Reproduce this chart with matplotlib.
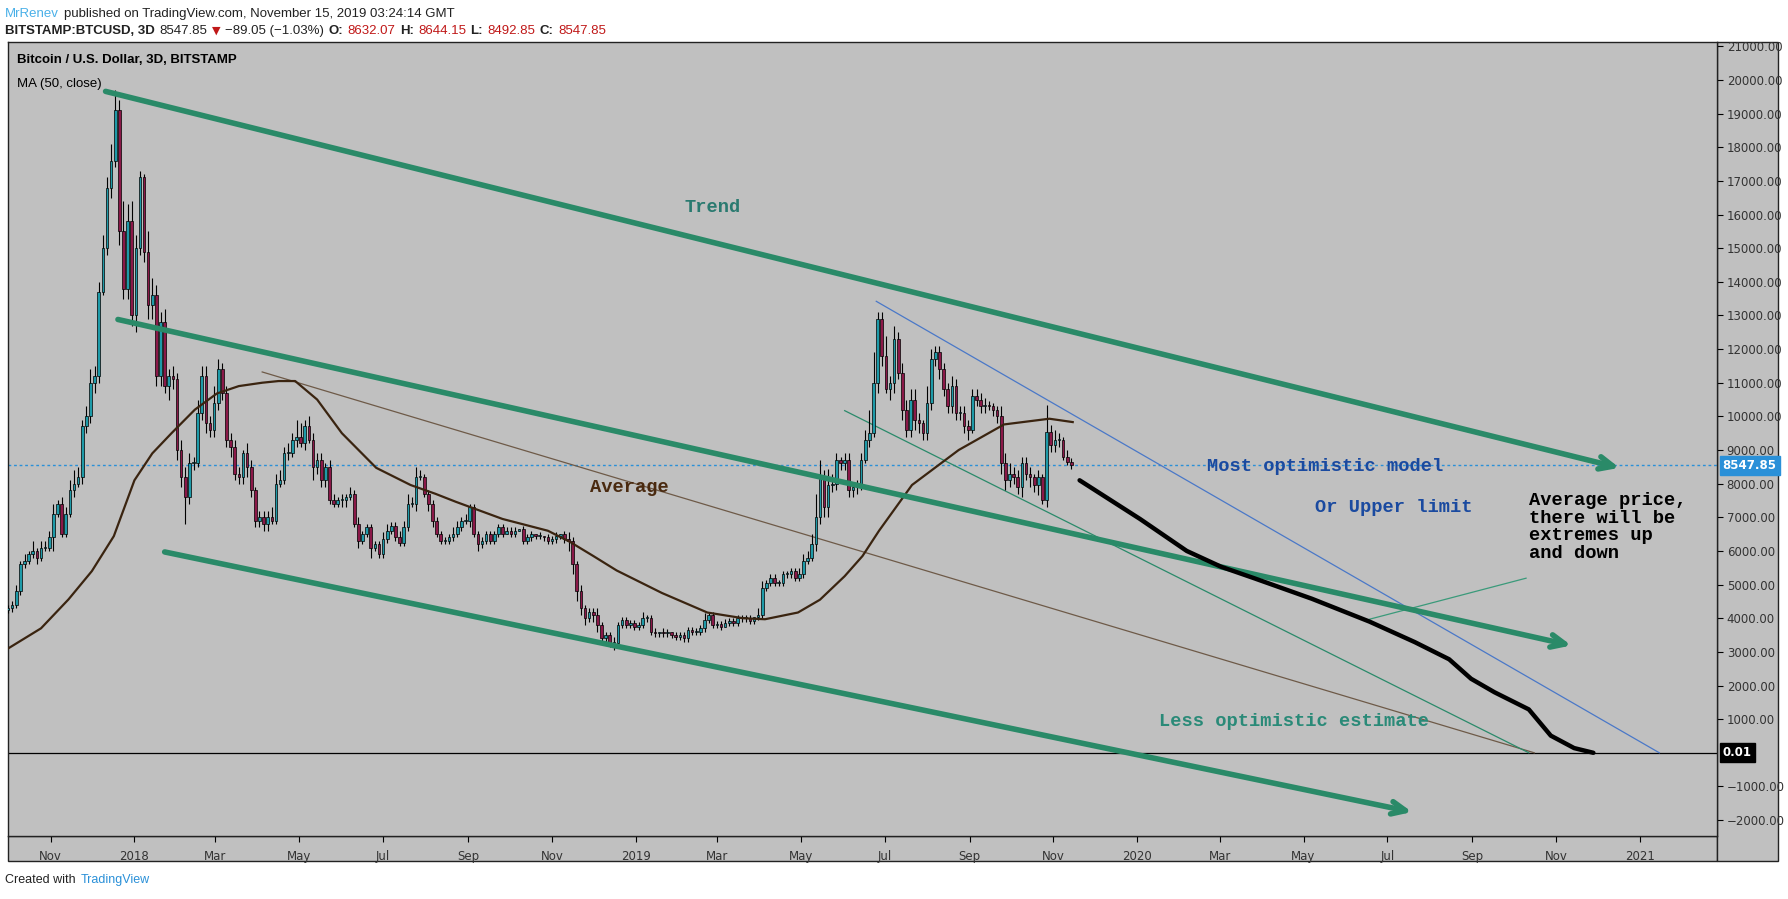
import datetime as dt

import matplotlib
matplotlib.use("Agg")
import matplotlib.pyplot as plt
import matplotlib.dates as mdates
import matplotlib.patches as mpatches
import numpy as np

# ---- data -------------------------------------------------------------
START = dt.date(2017, 10, 1)   # first 3D candle
FIRST_OPEN = 4250
closes = [
    4300, 4400, 4800, 5600, 5700, 5900, 6000, 5800, 6100, 6100, 6400,
    7100, 7400, 6500, 7100, 7800, 8000, 8200, 9700, 10000, 11000,
    11200, 13700, 15000, 16800, 17600, 19100, 15500, 13800, 15800, 13000,
    15000, 17100, 14900, 13300, 13600, 11200, 12800, 10900, 11200, 11100,
    9000, 8200, 7600, 8600, 8600, 10100, 11200, 9800, 9600, 10400,
    11400, 10700, 9300, 9100, 8300, 8200, 8900, 8500, 7800, 6900,
    7000, 6800, 7000, 6900, 8000, 8100, 8900, 8900, 9300, 9400,
    9200, 9700, 9300, 8500, 8700, 8100, 8500, 7500, 7400, 7500,
    7500, 7600, 7700, 6800, 6300, 6500, 6700, 6100, 6200, 5900,
    6350, 6600, 6750, 6400, 6250, 6700, 7400, 7400, 8200, 8200,
    7700, 7400, 6900, 6500, 6300, 6300, 6400, 6500, 6700, 6900,
    6900, 7300, 6500, 6200, 6300, 6500, 6300, 6500, 6700, 6500,
    6600, 6500, 6600, 6650, 6300, 6400, 6500, 6450, 6450, 6400,
    6300, 6350, 6450, 6500, 6350, 6300, 5600, 4800, 4300, 4000,
    4200, 4100, 3800, 3400, 3500, 3250, 3250, 3800, 3950, 3800,
    3850, 3750, 3800, 4000, 4000, 3600, 3550, 3600, 3550, 3580,
    3500, 3450, 3500, 3400, 3650, 3600, 3600, 3700, 3950, 4100,
    3800, 3820, 3750, 3870, 3920, 3870, 4000, 4000, 4000, 3920,
    4050, 4100, 4900, 5050, 5200, 5050, 5050, 5300, 5300, 5400,
    5200, 5300, 5700, 5800, 6200, 7000, 8200, 7300, 7950, 8000,
    8700, 8600, 8700, 7800, 7900, 8000, 8700, 9300, 9500, 11000,
    12900, 11800, 10800, 11000, 12300, 11300, 10200, 9600, 10500, 9900,
    9800, 9500, 10400, 11700, 11900, 11400, 10800, 10300, 10900, 10100,
    10100, 9700, 9600, 10600, 10500, 10300, 10350, 10300, 10200, 10000,
    8600, 8100, 8300, 8200, 7900, 8600, 8300, 8200, 7950, 8200,
    7500, 9550, 9150, 9300, 9300, 8800, 8650, 8548,
]
# wick lengths above / below the body, in hundreds of USD, one digit per candle
top_wick = ("1121213122" "2312234323" "4334356395" "6421653342" "3233324332"
            "5322222132" "1222333232" "5423222122" "1212121111" "1221122323"
            "2111111122" "1211111111" "1111011101" "0111012112" "1112111211"
            "1111211101" "1011111112" "1111111111" "1022111111" "1122237525"
            "3212211237" "9226242333" "3215322223" "2222222211" "1333222221"
            "218232121")
bot_wick = ("1111111211" "1411112122" "2321232433" "3523443324" "3338221232"
            "2222322232" "2222111121" "2121422211" "1221121131" "1111111112"
            "1122111111" "1121211111" "1011011111" "1111113332" "2122121211"
            "1111111111" "1111111111" "1111011111" "1111111111" "1111112233"
            "2222222212" "1331332322" "3322223222" "2223122212" "2332223232"
            "312222111")

ma_dates = ["2017-10-01", "2017-10-25", "2017-11-14", "2017-12-01", "2017-12-17",
            "2018-01-01", "2018-01-14", "2018-01-28", "2018-02-14", "2018-03-02",
            "2018-03-18", "2018-04-04", "2018-04-16", "2018-04-28", "2018-05-14",
            "2018-06-01", "2018-06-26", "2018-07-21", "2018-08-08", "2018-08-23",
            "2018-09-26", "2018-10-29", "2018-11-14", "2018-12-01", "2018-12-18",
            "2019-01-20", "2019-02-22", "2019-03-20", "2019-04-05", "2019-04-29",
            "2019-05-15", "2019-06-02", "2019-06-15", "2019-06-27", "2019-07-21",
            "2019-08-24", "2019-09-26", "2019-10-29", "2019-11-15"]
ma_values = [3100, 3700, 4560, 5400, 6440, 8100, 8900, 9500, 10200, 10680,
             10900, 11000, 11050, 11050, 10500, 9500, 8470, 7960, 7700, 7460,
             6950, 6600, 6270, 5850, 5420, 4750, 4170, 4000, 3970, 4170,
             4550, 5250, 5850, 6600, 7960, 9000, 9760, 9930, 9830]

proj_dates = ["2019-11-20", "2020-01-03", "2020-02-06", "2020-03-02", "2020-03-26",
              "2020-05-07", "2020-06-18", "2020-07-21", "2020-08-15", "2020-08-31",
              "2020-09-17", "2020-10-12", "2020-10-28", "2020-11-14", "2020-11-28"]
proj_values = [8100, 6950, 6000, 5530, 5190, 4580, 3900, 3290, 2780, 2200,
               1800, 1290, 510, 140, 0]

# channel lines: (start date, start price, end date, end price)
arrow_lines = [
    ("2017-12-11", 19660, "2020-12-17", 8470),   # Trend
    ("2017-12-20", 12880, "2020-11-12", 3190),   # middle
    ("2018-01-23", 5970, "2020-07-19", -1760),   # lower
]
thin_lines = [
    ("2018-04-04", 11320, "2020-10-16", 0, "#6e5a48", 0.9),
    ("2019-06-25", 13420, "2021-01-15", 0, "#4a78c8", 0.9),
    ("2019-06-02", 10170, "2020-10-12", 0, "#2a8a6a", 0.9),
    ("2020-06-18", 3970, "2020-10-10", 5190, "#3a9a7a", 0.9),
]

LAST_PRICE = 8547.85
y_ticks = [v for v in range(-2000, 21001, 1000) if v != 0]

# ---- figure -----------------------------------------------------------
GREEN = "#2a8a68"
BG = "#c0c0c0"
UP = "#1e9aa8"
DOWN = "#8a1848"

fig = plt.figure(figsize=(17.88, 8.99), dpi=100)

# axis strip background boxes (behind the axes)
fig.patches.append(mpatches.Rectangle((0.0045, 0.042), 0.9558, 0.028, transform=fig.transFigure,
                                      facecolor=BG, edgecolor="#222222", lw=1, zorder=-5))
fig.patches.append(mpatches.Rectangle((0.9603, 0.042), 0.034, 0.911, transform=fig.transFigure,
                                      facecolor=BG, edgecolor="#222222", lw=1, zorder=-5))

ax = fig.add_axes([0.0045, 0.070, 0.9558, 0.883])
ax.set_facecolor(BG)


def d(s):
    return mdates.date2num(dt.date.fromisoformat(s))


n = min(len(closes), len(top_wick), len(bot_wick))
x = np.array([mdates.date2num(START + dt.timedelta(days=3 * i)) for i in range(n)])
c = np.array(closes[:n], dtype=float)
o = np.concatenate([[FIRST_OPEN], c[:-1]])
hi = np.maximum(o, c) + np.array([int(ch) for ch in top_wick[:n]]) * 100
lo = np.minimum(o, c) - np.array([int(ch) for ch in bot_wick[:n]]) * 100
up = c >= o

ax.vlines(x, lo, hi, color="black", lw=0.8, zorder=3)
body_h = np.maximum(np.abs(c - o), 30)
ax.bar(x, body_h, bottom=np.minimum(o, c), width=1.9,
       color=np.where(up, UP, DOWN), edgecolor="black", lw=0.5, zorder=4)

ax.plot([d(s) for s in ma_dates], ma_values, color="#3a2410", lw=1.6, zorder=5)

for s0, p0, s1, p1, col, lw in thin_lines:
    ax.plot([d(s0), d(s1)], [p0, p1], color=col, lw=lw, zorder=2)

for s0, p0, s1, p1 in arrow_lines:
    ax.annotate("", xy=(d(s1), p1), xytext=(d(s0), p0),
                arrowprops=dict(arrowstyle="->,head_length=1.0,head_width=0.45",
                                color=GREEN, lw=4, shrinkA=0, shrinkB=0),
                zorder=6)

ax.plot([d(s) for s in proj_dates], proj_values, color="black", lw=3.2,
        solid_capstyle="round", zorder=7)

ax.axhline(LAST_PRICE, color="#2a90d8", lw=1, ls=(0, (2, 2)), zorder=1)
ax.axhline(0, color="black", lw=0.9, zorder=1)

mono = dict(family="Liberation Mono", fontweight="bold", fontsize=13.5)
ax.text(d("2019-02-26"), 16200, "Trend", color="#2a7a70", ha="center", va="center", **mono)
ax.text(d("2018-12-27"), 7900, "Average", color="#4a2a10", ha="center", va="center", **mono)
ax.text(d("2020-02-21"), 8500, "Most optimistic model", ha="left", va="center",
        color="#1a4aa0", **mono)
ax.text(d("2020-05-09"), 7300, "Or Upper limit", ha="left", va="center",
        color="#1a4aa0", **mono)
ax.text(d("2020-10-12"), 7750, "Average price,\nthere will be\nextremes up\nand down",
        ha="left", va="top", color="black", linespacing=1.05, **mono)
ax.text(d("2020-01-17"), 920, "Less optimistic estimate", ha="left", va="center",
        color="#2a8a78", **mono)

ax.text(0.005, 0.985, "Bitcoin / U.S. Dollar, 3D, BITSTAMP", transform=ax.transAxes,
        fontsize=9.5, fontweight="bold", family="Liberation Sans", va="top")
ax.text(0.005, 0.955, "MA (50, close)", transform=ax.transAxes,
        fontsize=9.5, family="Liberation Sans", va="top")

ax.set_xlim(d("2017-10-01"), d("2021-02-26"))
ax.set_ylim(-2475, 21120)

ax.yaxis.tick_right()
ax.set_yticks(y_ticks)
ax.set_yticklabels([f"{v:.2f}".replace("-", "\u2212") for v in y_ticks])
ax.tick_params(axis="y", labelsize=8.5, labelcolor="#333333", length=4,
               direction="out", pad=3)

months = [dt.date(2017, 11, 1)] + [dt.date(y, m, 1) for y in (2018, 2019, 2020)
                                   for m in (1, 3, 5, 7, 9, 11)] + [dt.date(2021, 1, 1)]
ax.set_xticks([mdates.date2num(m) for m in months])
ax.set_xticklabels([str(m.year) if m.month == 1 else m.strftime("%b") for m in months])
ax.tick_params(axis="x", labelsize=8.5, labelcolor="#333333", length=4, pad=6)
for sp in ax.spines.values():
    sp.set_color("#222222")
    sp.set_linewidth(1)

# price labels on the right axis
for val, txt, col in ((LAST_PRICE, "8547.85", "#2a90d8"), (0, "0.01", "black")):
    ax.annotate(txt, xy=(1.0, val), xycoords=("axes fraction", "data"),
                xytext=(4, 0), textcoords="offset points", va="center", ha="left",
                fontsize=8.5, fontweight="bold", color="white", annotation_clip=False,
                bbox=dict(boxstyle="square,pad=0.25", fc=col, ec=col), zorder=10)

# header: lay out text pieces one after another
renderer = fig.canvas.get_renderer()


def text_row(y, pieces, x0=0.003):
    xpos = x0
    for txt, kw in pieces:
        t = fig.text(xpos, y, txt, va="center", **kw)
        bb = t.get_window_extent(renderer)
        xpos += bb.width / fig.bbox.width + 0.0025


base = dict(fontsize=9.5, family="Liberation Sans", color="#222222")
bold = dict(base, fontweight="bold")
red = dict(base, color="#c01818")
text_row(0.984, [("MrRenev", dict(base, color="#4ab0e8")),
                 ("published on TradingView.com, November 15, 2019 03:24:14 GMT", base)])
text_row(0.966, [("BITSTAMP:BTCUSD, 3D", bold), ("8547.85", base),
                 ("\u25bc", dict(red, family="DejaVu Sans", fontsize=8)),
                 ("\u221289.05 (\u22121.03%)", base),
                 ("O:", bold), ("8632.07", red), ("H:", bold), ("8644.15", red),
                 ("L:", bold), ("8492.85", red), ("C:", bold), ("8547.85", red)])

text_row(0.021, [("Created with", dict(base, fontsize=9)),
                 ("TradingView", dict(base, fontsize=9, color="#2a90d8"))])

fig.savefig("out.png", dpi=100, facecolor="white")
